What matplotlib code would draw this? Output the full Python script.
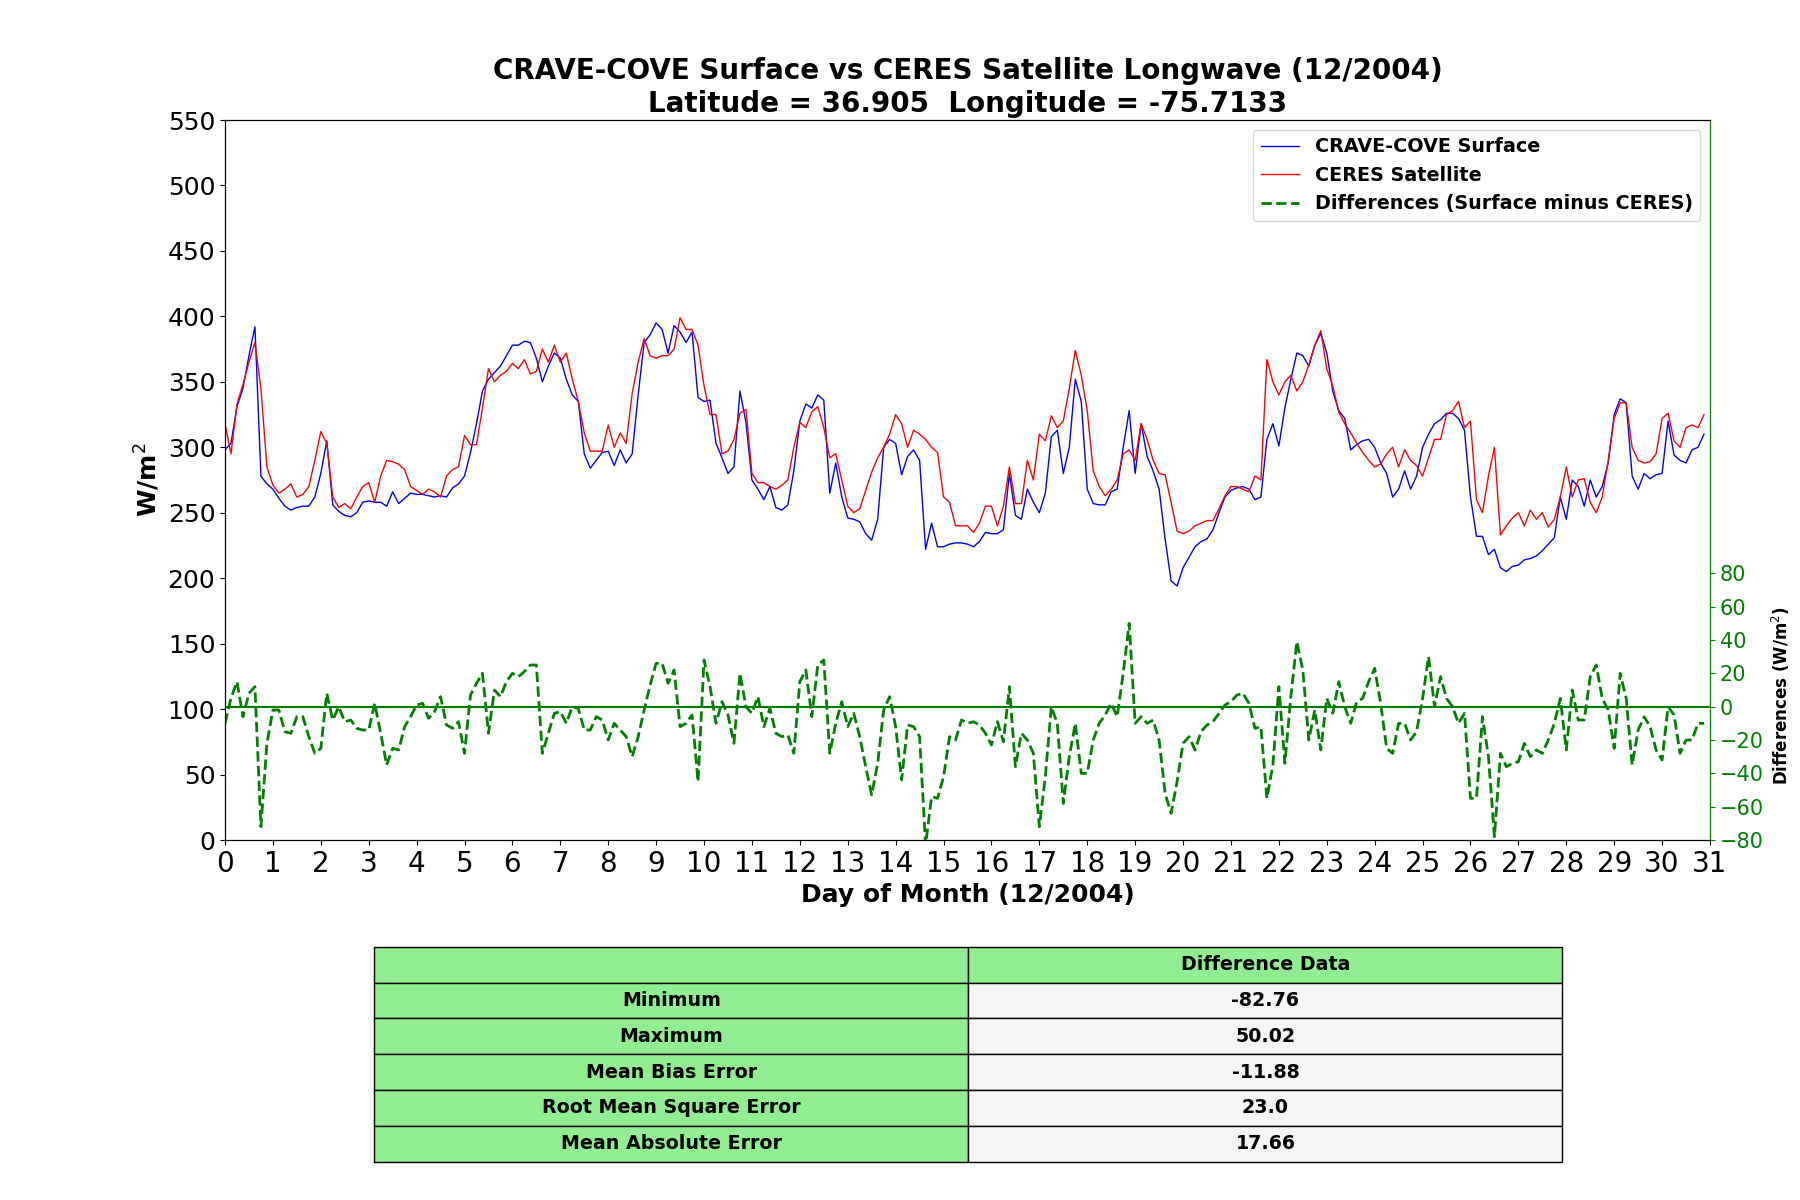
import numpy as np
import matplotlib
matplotlib.use("Agg")
import matplotlib.pyplot as plt

# time axis: hours since 00 UTC 1 Dec 2004, 3-hourly samples
hours = list(range(0, 744, 3))

surface = [
    298, 303, 331, 345, 370, 392, 278, 272, 268, 261, 255, 252, 254, 255, 255, 262,
    280, 305, 256, 251, 248, 247, 250, 258, 259, 258, 258, 255, 266, 257, 261, 265,
    264, 264, 263, 262, 263, 262, 269, 272, 278, 296, 318, 343, 352, 357, 362, 370,
    378, 378, 381, 380, 368, 350, 362, 372, 368, 352, 340, 335, 295, 284, 290, 296,
    297, 286, 298, 288,
    295, 340, 380, 386, 395, 390, 372, 393, 388, 380, 388, 338, 335, 336, 303, 292,
    280, 285, 343, 319, 275, 268, 260, 270, 254, 252, 256, 282, 320, 333, 330, 340,
    336, 265, 288, 262,
    246, 245, 243, 234, 229, 245, 300, 306, 303, 279, 293, 298, 290, 222, 242, 224,
    224, 226, 227, 227, 226, 224, 228, 235, 234, 234, 237, 280, 248, 245, 268, 258,
    250, 265, 308, 313,
    280, 300, 352, 335, 268, 257, 256, 256, 266, 268, 300, 328, 280, 318, 293, 282,
    268, 230, 198, 194, 208, 216, 224, 228, 230, 237, 250, 262, 267, 269, 270, 268,
    260, 262, 306, 318,
    301, 330, 352, 372, 370, 362, 378, 387, 372, 343, 328, 322, 298, 302, 305, 306,
    300, 288, 280, 262, 268, 282, 268, 278, 300, 310, 318, 321, 326, 326, 322, 313,
    262, 232, 232, 218,
    222, 208, 205, 209, 210, 214, 215, 217, 221, 226, 231, 262, 245, 275, 270, 255,
    275, 262, 270, 288, 325, 337, 334, 278, 268, 280, 276, 279, 280, 320, 294, 290,
    288, 298, 300, 310,
]

ceres = [
    318, 295, 333, 348, 365, 380, 345, 285, 271, 265, 268, 272, 262, 264, 270, 290,
    312, 303, 262, 254, 257, 253, 262, 270, 273, 258, 278, 290, 289, 287, 283, 270,
    267, 264, 268, 266, 262, 278, 283, 285, 309, 302, 302, 330, 360, 350, 355, 358,
    364, 360, 367, 356, 358, 375, 365, 378, 365, 372, 352, 335, 311, 297, 297, 297,
    317, 300, 311, 303,
    341, 365, 383, 370, 368, 370, 370, 375, 399, 390, 390, 378, 347, 325, 325, 295,
    297, 306, 326, 329, 280, 273, 273, 270, 268, 271, 275, 300, 319, 315, 327, 331,
    315, 292, 295, 275,
    255, 250, 253, 267, 281, 292, 300, 310, 325, 318, 300, 313, 310, 306, 300, 296,
    262, 258, 240, 240, 240, 235, 242, 255, 255, 240, 255, 285, 257, 257, 290, 275,
    310, 305, 324, 315,
    320, 345, 374, 355, 328, 282, 270, 263, 268, 275, 295, 298, 290, 318, 306, 290,
    280, 279, 258, 236, 234, 236, 240, 242, 244, 244, 253, 263, 270, 270, 268, 266,
    278, 275, 367, 350,
    340, 350, 355, 343, 350, 363, 378, 389, 360, 347, 327, 318, 311, 303, 296, 290,
    285, 287, 295, 300, 285, 298, 290, 286, 278, 292, 306, 306, 325, 328, 335, 315,
    320, 260, 250, 278,
    300, 233, 240, 246, 250, 240, 252, 245, 250, 239, 245, 262, 285, 262, 275, 276,
    258, 250, 262, 290, 322, 334, 334, 300, 290, 288, 289, 295, 322, 326, 305, 300,
    315, 317, 315, 325,
]

differences = [
    -10, 5, 15, -6, 8, 12, -72, -22, -2, -2,
    -15, -16, -6, -6, -18, -28, -25, 8, -8, 0,
    -9, -8, -13, -14, -14, 2, -16, -35, -25, -26,
    -12, -6, 1, 2, -7, -3, 6, -11, -13, -9,
    -28, 7, 14, 20, -16, 10, 6, 15, 20, 18,
    21, 25, 25, -28, -16, -4, -3, -10, 0, -1,
    -14, -14, -6, -8, -20, -10, -14, -18, -30, -18,
    -2, 13, 26, 26, 14, 22, -12, -10, -5, -45,
    28, 12, -10, 3, -5,
    -22, 20, 0, -4, 6, -12, -1, -16, -18, -17,
    -28, 15, 22, -6, 25, 28, -28, -10, 3, -12,
    -4, -18, -36, -53, -34, -2, 6, -12, -44, -11,
    -12, -18, -83, -54, -55, -42, -18, -20, -8, -10,
    -9, -11, -16, -23, -9, -21, 12, -36, -16, -20,
    -28, -72, -42, 0, -10, -58, -30, -10, -40, -40,
    -20, -10, -5, 2, -6, 20, 50, -10, -6, -10,
    -8, -20, -52, -64, -45, -22, -18, -26, -15, -11,
    -9, -4, 1,
    3, 7, 8, 2, -13, -12, -55, -35, 12, -34,
    6, 39, 22, -20, -2, -26, 5, -4, 15, 0,
    -10, 3, 5, 15, 23, 2, -25, -28, -10, -10,
    -20, -15, 5, 30, 0, 18, 5, 0, -10, -4,
    -55, -55, -6, -30, -78, -28, -36, -34, -33, -22,
    -30, -26, -28, -20, -10, 5, -26, 10, -8, -8,
    18, 25, 5, -2, -25, 20, 5, -35, -14, -6,
    -12, -26, -32, 0, -5, -28, -20, -20, -10, -10,
]

stat_names = ["Minimum", "Maximum", "Mean Bias Error",
              "Root Mean Square Error", "Mean Absolute Error"]
stat_values = ["-82.76", "50.02", "-11.88", "23.0", "17.66"]

x_ticks = list(range(0, 32))
left_ticks = list(range(0, 551, 50))
right_ticks = list(range(-80, 81, 20))

plt.rcParams["font.family"] = ["DejaVu Sans"]

days = np.array(hours) / 24.0

fig = plt.figure(figsize=(18, 12), dpi=100)
ax = fig.add_axes([0.125, 0.30, 0.825, 0.60])

l1, = ax.plot(days, surface, color="blue", lw=1.0, label="CRAVE-COVE Surface")
l2, = ax.plot(days, ceres, color="red", lw=1.0, label="CERES Satellite")
ax.set_xlim(0, 31)
ax.set_ylim(0, 550)
ax.set_xticks(x_ticks)
ax.set_yticks(left_ticks)
ax.tick_params(axis="y", labelsize=18)
ax.tick_params(axis="x", labelsize=20)
ax.set_xlabel("Day of Month (12/2004)", fontsize=18, fontweight="bold")
ax.set_ylabel("W/m$^2$", fontsize=18, fontweight="bold")
ax.set_title("CRAVE-COVE Surface vs CERES Satellite Longwave (12/2004)\n"
             "Latitude = 36.905  Longitude = -75.7133",
             fontsize=20, fontweight="bold", pad=6)

ax2 = ax.twinx()
l3, = ax2.plot(days, differences, color="green", ls="--", lw=2.0,
               label="Differences (Surface minus CERES)")
ax2.axhline(0, color="green", lw=1.5)
ax2.set_ylim(-80, 352)
ax2.set_yticks(right_ticks)
ax2.tick_params(axis="y", colors="green", labelsize=15)
ax2.spines["right"].set_color("green")
ax2.set_ylabel("Differences (W/m$^2$)", fontsize=12, fontweight="bold")
ax2.yaxis.set_label_coords(1.040, 0.20)

ax2.legend(handles=[l1, l2, l3], loc="upper right",
           prop={"weight": "bold", "size": 13.8})

# statistics table
tax = fig.add_axes([0.208, 0.032, 0.66, 0.179])
tax.axis("off")
cell_text = [["", "Difference Data"]] + [[n, v] for n, v in zip(stat_names, stat_values)]
colours = [["#90EE90", "#90EE90"]] + [["#90EE90", "#F5F5F5"] for _ in stat_names]
tbl = tax.table(cellText=cell_text, cellColours=colours, cellLoc="center",
                bbox=[0, 0, 1, 1])
tbl.auto_set_font_size(False)
tbl.set_fontsize(13.7)
for (r, c), cell in tbl.get_celld().items():
    cell.get_text().set_fontweight("bold")
    cell.set_edgecolor("black")

fig.savefig("out.png", dpi=100)
